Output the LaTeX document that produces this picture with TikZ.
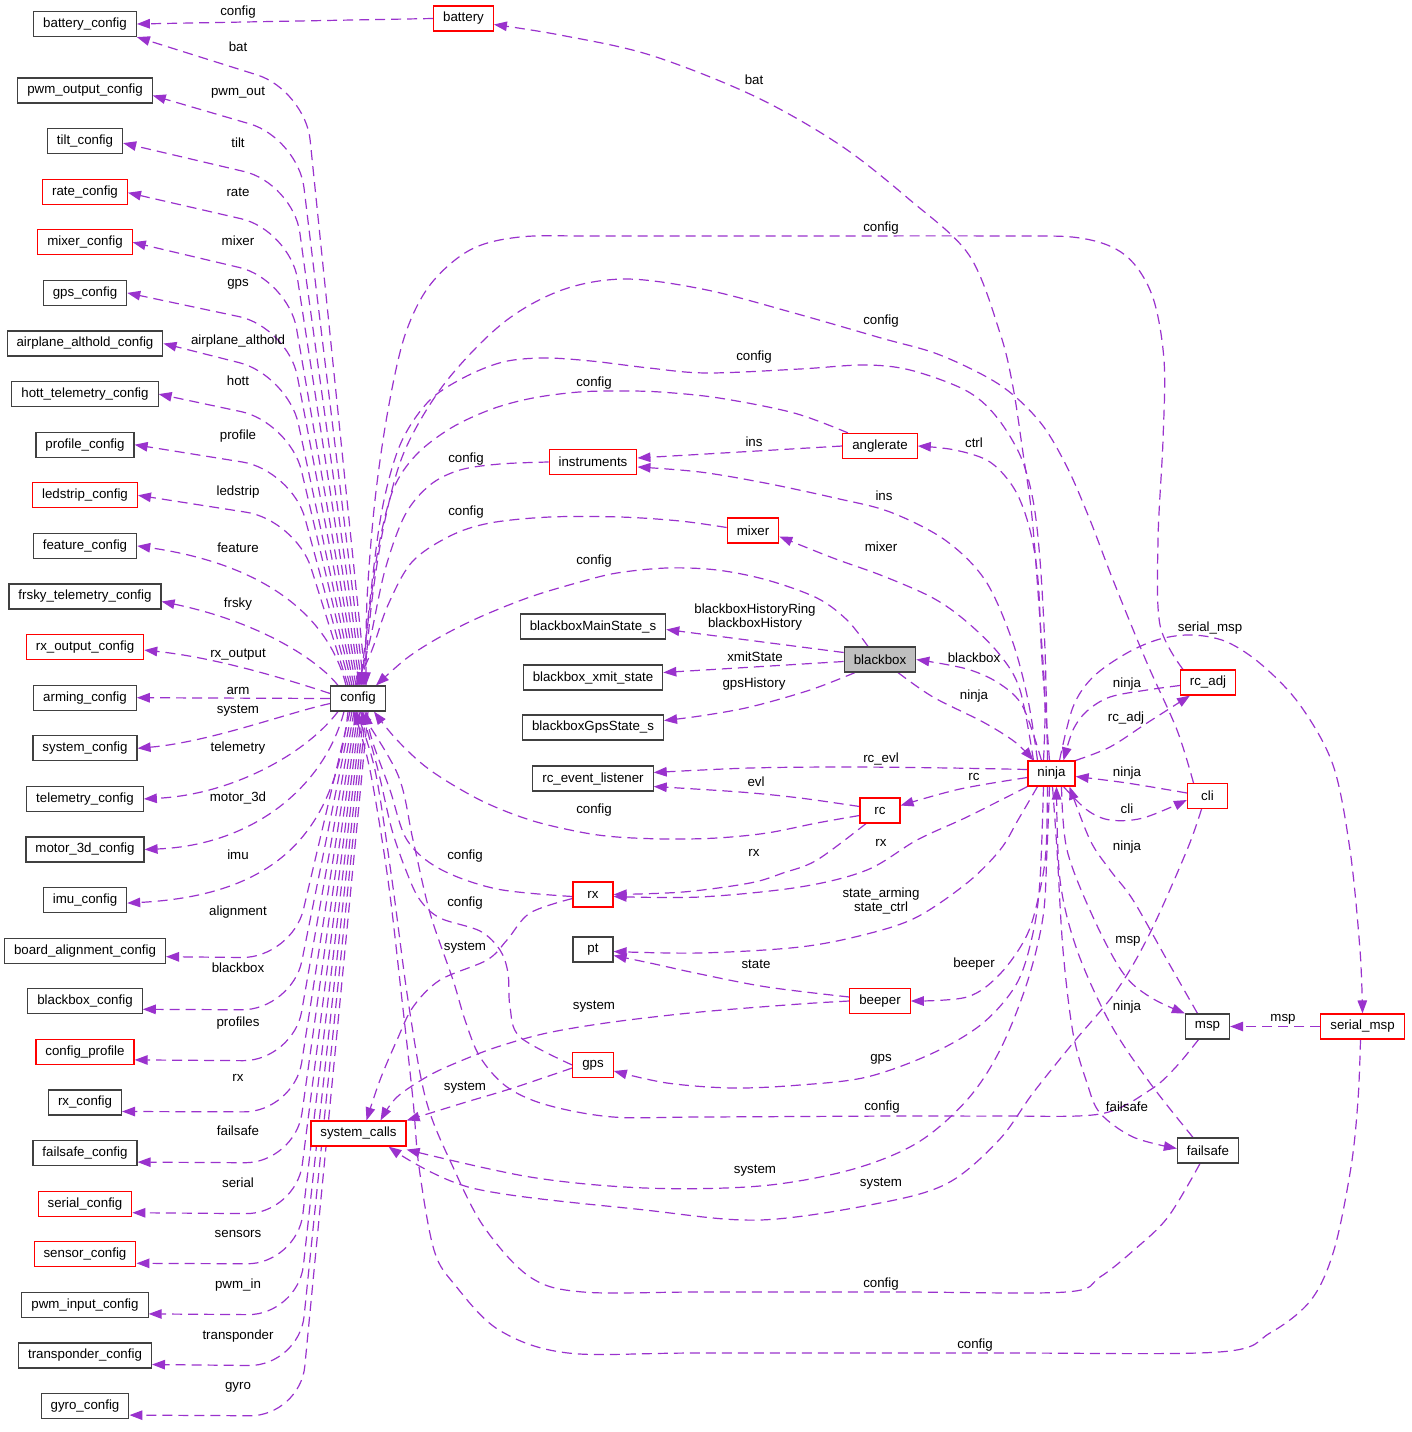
\documentclass[tikz,border=0pt]{standalone}
\usepackage{fontspec}
\setmainfont{Liberation Sans}
\usetikzlibrary{arrows.meta,backgrounds}
\definecolor{edgec}{HTML}{9A32CD}
\definecolor{boxc}{HTML}{404040}
\definecolor{hlfill}{HTML}{BFBFBF}
\newcommand\dfont{\fontsize{13.3pt}{14pt}\selectfont}
\tikzset{
  box/.style={draw=boxc, line width=1.15pt, fill=white, minimum height=25pt, minimum width=40pt, inner xsep=9.5pt, inner ysep=0pt, font=\dfont},
  rbox/.style={box, draw=red},
  e/.style={draw=edgec, line width=1.2pt, dash pattern=on 10pt off 6pt, -{Triangle[length=13pt,width=9.5pt]}},
  lb/.style={font=\dfont, inner sep=0pt, align=center},
  sm/.style={smooth, tension=0.55},
  rc50/.style={rounded corners=50pt},
}
\begin{document}
\begin{tikzpicture}[x=1pt,y=-1pt]
\path[use as bounding box] (0,0) rectangle (1411,1432);
% ---------- left column ----------
\node[box]  (battery_config) at (85,24) {battery\_config};
\node[box]  (pwm_output_config) at (85,90.5) {pwm\_output\_config};
\node[box]  (tilt_config) at (85,141.1) {tilt\_config};
\node[rbox] (rate_config) at (85,191.7) {rate\_config};
\node[rbox] (mixer_config) at (85,242.3) {mixer\_config};
\node[box]  (gps_config) at (85,292.9) {gps\_config};
\node[box]  (airplane_althold_config) at (85,343.5) {airplane\_althold\_config};
\node[box]  (hott_telemetry_config) at (85,394.1) {hott\_telemetry\_config};
\node[box]  (profile_config) at (85,444.7) {profile\_config};
\node[rbox] (ledstrip_config) at (85,495.3) {ledstrip\_config};
\node[box]  (feature_config) at (85,545.9) {feature\_config};
\node[box]  (frsky_telemetry_config) at (85,596.5) {frsky\_telemetry\_config};
\node[rbox] (rx_output_config) at (85,647.1) {rx\_output\_config};
\node[box]  (arming_config) at (85,697.7) {arming\_config};
\node[box]  (system_config) at (85,748.3) {system\_config};
\node[box]  (telemetry_config) at (85,798.9) {telemetry\_config};
\node[box]  (motor_3d_config) at (85,849.5) {motor\_3d\_config};
\node[box]  (imu_config) at (85,900.1) {imu\_config};
\node[box]  (board_alignment_config) at (85,950.7) {board\_alignment\_config};
\node[box]  (blackbox_config) at (85,1001.3) {blackbox\_config};
\node[rbox] (config_profile) at (85,1051.9) {config\_profile};
\node[box]  (rx_config) at (85,1102.5) {rx\_config};
\node[box]  (failsafe_config) at (85,1153.1) {failsafe\_config};
\node[rbox] (serial_config) at (85,1203.7) {serial\_config};
\node[rbox] (sensor_config) at (85,1254.3) {sensor\_config};
\node[box]  (pwm_input_config) at (85,1304.9) {pwm\_input\_config};
\node[box]  (transponder_config) at (85,1355.5) {transponder\_config};
\node[box]  (gyro_config) at (85,1406.1) {gyro\_config};
% ---------- centre ----------
\node[box]  (config) at (358,698.5) {config};
\node[rbox] (battery) at (463.5,18.5) {battery};
\node[rbox] (instruments) at (593,462) {instruments};
\node[rbox] (anglerate) at (880,446) {anglerate};
\node[rbox] (mixer) at (753,530.5) {mixer};
\node[box]  (blackboxMainState_s) at (593,626.5) {blackboxMainState\_s};
\node[box, fill=hlfill] (blackbox) at (880,659.5) {blackbox};
\node[box]  (blackbox_xmit_state) at (593,677.5) {blackbox\_xmit\_state};
\node[box]  (blackboxGpsState_s) at (593,727.5) {blackboxGpsState\_s};
\node[box]  (rc_event_listener) at (593,778.5) {rc\_event\_listener};
\node[rbox] (rc) at (880,810.5) {rc};
\node[rbox] (rx) at (593,894.5) {rx};
\node[box]  (pt) at (593,949.5) {pt};
\node[rbox] (beeper) at (880,1001) {beeper};
\node[rbox] (gps) at (593,1065) {gps};
\node[rbox] (system_calls) at (358.5,1133.5) {system\_calls};
\node[rbox] (ninja) at (1051.5,773.5) {ninja};
\node[rbox] (rc_adj) at (1208,682.5) {rc\_adj};
\node[rbox] (cli) at (1207.5,796) {cli};
\node[box]  (msp) at (1207.5,1026.5) {msp};
\node[rbox] (serial_msp) at (1362.5,1026.5) {serial\_msp};
\node[box]  (failsafe) at (1208,1150.5) {failsafe};

\begin{scope}[on background layer]
% ---------- config -> left column (upper) ----------
\draw[e,rc50] ([xshift=8pt]config.north) -- (305,90) -- (battery_config.south east);
\draw[e,rc50] ([xshift=6pt]config.north) -- (298,138) -- ([yshift=-5pt]pwm_output_config.east);
\draw[e,rc50] ([xshift=4pt]config.north) -- (293,183) -- ([yshift=-2pt]tilt_config.east);
\draw[e,rc50] ([xshift=2pt]config.north) -- (290,230) -- ([yshift=-1pt]rate_config.east);
\draw[e,rc50] ([xshift=0pt]config.north) -- (288,279) -- (mixer_config.east);
\draw[e,rc50] ([xshift=-2pt]config.north) -- (288,327) -- (gps_config.east);
\draw[e,rc50] ([xshift=-4pt]config.north) -- (288,375) -- (airplane_althold_config.east);
\draw[e,rc50] ([xshift=-6pt]config.north) -- (290,422) -- (hott_telemetry_config.east);
\draw[e,rc50] ([xshift=-8pt]config.north) -- (292,470) -- (profile_config.east);
\draw[e,rc50] ([xshift=-10pt]config.north) -- (296,520) -- (ledstrip_config.east);
\draw[e] ([xshift=-12pt]config.north) .. controls (330,620) and (270,565) .. (feature_config.east);
\draw[e] ([xshift=-20pt]config.north) .. controls (318,660) and (260,622) .. ([yshift=-5pt]frsky_telemetry_config.east);
\draw[e] ([yshift=5pt]config.west) .. controls (295,682) and (220,658) .. ([yshift=-3pt]rx_output_config.east);
\draw[e] (config.west) -- (arming_config.east);
\draw[e] ([yshift=-5pt]config.west) .. controls (290,712) and (210,742) .. (system_config.east);
\draw[e] ([xshift=-20pt]config.south) .. controls (305,755) and (230,795) .. (telemetry_config.east);
\draw[e] ([xshift=-14pt]config.south) .. controls (325,785) and (255,845) .. (motor_3d_config.east);
\draw[e] ([xshift=-10pt]config.south) .. controls (335,830) and (280,895) .. ([yshift=-3pt]imu_config.east);
% ---------- config -> left column (lower) ----------
\draw[e,rc50] ([xshift=-8pt]config.south) -- (292,958) -- ([yshift=-6pt]board_alignment_config.east);
\draw[e,rc50] ([xshift=-6pt]config.south) -- (292,1010) -- ([yshift=-8pt]blackbox_config.east);
\draw[e,rc50] ([xshift=-4pt]config.south) -- (293,1061) -- ([yshift=-8pt]config_profile.east);
\draw[e,rc50] ([xshift=-2pt]config.south) -- (294,1112) -- ([yshift=-9pt]rx_config.east);
\draw[e,rc50] ([xshift=0pt]config.south) -- (295,1163) -- ([yshift=-9pt]failsafe_config.east);
\draw[e,rc50] ([xshift=2pt]config.south) -- (296,1214) -- ([yshift=-9pt]serial_config.east);
\draw[e,rc50] ([xshift=4pt]config.south) -- (297,1264) -- ([yshift=-9pt]sensor_config.east);
\draw[e,rc50] ([xshift=6pt]config.south) -- (298,1315) -- ([yshift=-9pt]pwm_input_config.east);
\draw[e,rc50] ([xshift=8pt]config.south) -- (299,1366) -- ([yshift=-9pt]transponder_config.east);
\draw[e,rc50] ([xshift=10pt]config.south) -- (300,1416) -- ([yshift=-9pt]gyro_config.east);
% ---------- battery ----------
\draw[e] (battery.west) -- (battery_config.east);
\draw[e] plot[sm] coordinates {([xshift=-8pt]ninja.north) (1045,700) (1040,620) (1032,517) (1023,453) (1013,387) (1000,333) (969,255) (910,200) (840,145) (754,96) (650,55) (560,35) ([yshift=-6pt]battery.east)};
% ---------- edges into config (top) ----------
\draw[e] plot[sm] coordinates {([xshift=-25pt]rc_adj.north) (1160,625) (1158,540) (1163,440) (1164,360) (1152,295) (1125,255) (1080,238) (1000,236) (800,236) (600,236) (520,237) (470,250) (430,285) (405,335) (388,410) (375,500) (367,600) ([xshift=8pt]config.north)};
\draw[e] plot[sm] coordinates {([xshift=-14pt]cli.north) (1177,730) (1147,663) (1113,580) (1090,520) (1067,467) (1040,422) (1000,385) (940,355) (881,338) (794,313) (707,290) (626,279) (562,290) (503,323) (445,383) (405,450) (385,520) (372,600) ([xshift=6pt]config.north)};
\draw[e] plot[sm] coordinates {([xshift=-4pt]ninja.north) (1045,650) (1040,560) (1033,500) (1020,455) (995,415) (965,390) (910,370) (864,365) (800,369) (707,373) (649,368) (591,361) (544,358) (503,362) (463,378) (428,402) (400,445) (382,510) (370,600) ([xshift=4pt]config.north)};
\draw[e] plot[sm] coordinates {([xshift=-32pt]anglerate.north) (794,413) (719,398) (660,392) (620,391) (579,392) (533,398) (492,409) (451,428) (416,455) (393,490) (378,550) (367,630) ([xshift=2pt]config.north)};
\draw[e] plot[sm] coordinates {(instruments.west) (500,464) (460,470) (430,485) (405,515) (385,570) (370,640) (config.north)};
\draw[e] plot[sm] coordinates {([yshift=3pt]mixer.west) (680,521) (620,517) (550,517) (490,523) (450,536) (412,562) (388,605) (372,650) ([xshift=-2pt]config.north)};
\draw[e] plot[sm] coordinates {([xshift=-12pt]blackbox.north) (847,620) (817,598) (767,580) (717,570) (667,568) (617,573) (580,582) (530,597) (480,617) (440,637) (407,658) ([xshift=18pt]config.north)};
% ---------- edges into config (bottom) ----------
\draw[e] plot[sm] coordinates {([yshift=-5pt]rc.west) (817,823) (767,833) (717,838) (667,839) (617,837) (580,832) (530,820) (480,800) (430,770) (397,740) ([xshift=16pt]config.south)};
\draw[e] plot[sm] coordinates {([yshift=-2pt]rx.west) (497,889) (440,869) (407,840) (390,790) (372,740) ([xshift=8pt]config.south)};
\draw[e] plot[sm] coordinates {(gps.west) (520,1037) (510,1007) (508,973) (500,950) (480,931) (440,918) (420,900) (407,873) (392,830) (378,770) ([xshift=4pt]config.south)};
\draw[e] plot[sm] coordinates {([xshift=-9pt]msp.south) (1175,1068) (1150,1090) (1100,1114) (1000,1116) (900,1116) (700,1117) (613,1117) (547,1105) (507,1087) (480,1057) (465,1020) (453,980) (430,913) (413,840) (398,775) ([xshift=2pt]config.south)};
\draw[e] plot[sm] coordinates {([xshift=-8pt]failsafe.south) (1168,1217) (1134,1250) (1100,1277) (1066,1292) (900,1292) (700,1292) (583,1292) (530,1277) (484,1227) (453,1167) (426,1100) (408,1000) (392,880) (375,770) ([xshift=-2pt]config.south)};
\draw[e] plot[sm] coordinates {([xshift=-2pt]serial_msp.south) (1358,1100) (1351,1167) (1334,1250) (1311,1300) (1270,1333) (1219,1352) (1000,1353) (700,1353) (568,1353) (499,1330) (455,1285) (434,1250) (419,1167) (413,1100) (402,1000) (388,880) (370,770) ([xshift=-4pt]config.south)};
% ---------- middle ----------
\draw[e] (anglerate.west) -- ([yshift=4pt]instruments.east);
\draw[e] plot[sm] coordinates {([xshift=-14pt]ninja.north) (1028,700) (1012,640) (985,580) (945,540) (890,512) (835,498) (765,483) (700,472) ([yshift=-5pt]instruments.east)};
\draw[e] plot[sm] coordinates {([xshift=-2pt]ninja.north) (1042,660) (1038,580) (1030,530) (1015,490) (990,462) (955,450) (anglerate.east)};
\draw[e] plot[sm] coordinates {([xshift=-18pt]ninja.north) (1020,690) (1000,655) (967,622) (933,598) (883,576) (833,558) ([yshift=-6pt]mixer.east)};
\draw[e] ([yshift=7pt]blackbox.west) -- ([yshift=-3pt]blackboxMainState_s.east);
\draw[e] ([yshift=-2pt]blackbox.west) -- ([yshift=5pt]blackbox_xmit_state.east);
\draw[e] plot[sm] coordinates {([xshift=-25pt]blackbox.south) (810,690) (750,707) (700,716) ([yshift=7pt]blackboxGpsState_s.east)};
\draw[e] plot[sm] coordinates {([xshift=-10pt]ninja.north) (1023,707) (1000,684) (967,669) (blackbox.east)};
\draw[e] plot[sm] coordinates {([xshift=18pt]blackbox.south) (933,697) (983,722) (1015,742) ([xshift=6pt]ninja.north west)};
\draw[e] plot[sm] coordinates {([yshift=4pt]ninja.west) (950,768) (850,767) (750,768) ([yshift=6pt]rc_event_listener.east)};
\draw[e] plot[sm] coordinates {([yshift=4pt]rc.west) (800,798) (740,792) ([yshift=-8pt]rc_event_listener.east)};
\draw[e] plot[sm] coordinates {([yshift=-4pt]ninja.west) (960,789) ([yshift=5pt]rc.east)};
\draw[e] plot[sm] coordinates {([xshift=-14pt]rc.south) (817,860) (783,873) (750,883) (683,892) (rx.east)};
\draw[e] plot[sm] coordinates {(ninja.south west) (967,817) (917,840) (867,870) (800,887) (700,897) ([yshift=-2pt]rx.east)};
\draw[e] plot[sm] coordinates {([xshift=-14pt]ninja.south) (1018,820) (1000,850) (967,883) (917,917) (867,934) (800,947) (700,953) ([yshift=-2pt]pt.east)};
\draw[e] plot[sm] coordinates {([yshift=4pt]beeper.west) (767,987) (700,974) (650,963) ([yshift=-6pt]pt.east)};
\draw[e] plot[sm] coordinates {([xshift=-4pt]ninja.south) (1046,850) (1040,890) (1027,935) (1000,974) (967,997) (beeper.east)};
\draw[e] plot[sm] coordinates {([xshift=-8pt]ninja.south) (1040,880) (1033,933) (1017,983) (983,1023) (933,1053) (867,1077) (800,1085) (733,1088) (667,1083) ([yshift=-6pt]gps.east)};
% ---------- system_calls ----------
\draw[e] plot[sm] coordinates {([yshift=-4pt]rx.west) (530,913) (507,940) (487,960) (440,980) (413,1007) (397,1040) (380,1080) ([xshift=8pt]system_calls.north)};
\draw[e] plot[sm] coordinates {(beeper.west) (800,1004) (700,1012) (613,1022) (547,1033) (497,1047) (463,1060) (430,1075) (397,1097) ([xshift=22pt]system_calls.north)};
\draw[e] plot[sm] coordinates {([yshift=-3pt]gps.west) (513,1088) (463,1103) (system_calls.north east)};
\draw[e] plot[sm] coordinates {([xshift=-2pt]ninja.south) (1047,850) (1043,917) (1027,983) (1000,1050) (967,1100) (917,1143) (850,1170) (760,1186) (645,1188) (530,1177) ([yshift=-3pt]system_calls.south east)};
\draw[e] plot[sm] coordinates {([xshift=-6pt]cli.south) (1187,850) (1150,933) (1117,990) (1073,1043) (1033,1093) (999,1140) (948,1183) (880,1203) (760,1220) (645,1210) (472,1188) ([xshift=30pt]system_calls.south)};
% ---------- right cluster ----------
\draw[e] plot[sm] coordinates {([xshift=10pt]ninja.south) (1067,850) (1093,917) (1123,973) (1150,997) (msp.north west)};
\draw[e] plot[sm] coordinates {([xshift=-10pt]msp.north) (1167,960) (1133,900) (1110,870) (1090,840) ([xshift=18pt]ninja.south)};
\draw[e] plot[sm] coordinates {([xshift=-15pt]failsafe.north) (1150,1083) (1110,1023) (1077,950) (1060,880) ([xshift=5pt]ninja.south)};
\draw[e] plot[sm] coordinates {([xshift=1pt]ninja.south) (1057,850) (1063,950) (1073,1033) (1087,1083) (1100,1113) (1133,1137) ([yshift=2pt]failsafe.west)};
\draw[e] (serial_msp.west) -- (msp.east);
\draw[e] plot[sm] coordinates {([xshift=8pt]ninja.north) (1073,707) (1093,677) (1127,653) (1160,639) (1193,635) (1227,642) (1262,665) (1300,705) (1333,765) (1350,850) (1360,950) (serial_msp.north)};
\draw[e] plot[sm] coordinates {([yshift=-3pt]rc_adj.west) (1147,690) (1110,697) (1087,711) (1073,730) ([xshift=12pt]ninja.north)};
\draw[e] plot[sm] coordinates {(ninja.north east) (1110,747) (1147,723) ([xshift=-18pt]rc_adj.south)};
\draw[e] plot[sm] coordinates {([yshift=3pt]cli.west) (1127,783) ([yshift=-3pt]ninja.east)};
\draw[e] plot[sm] coordinates {([xshift=12pt]ninja.south) (1087,810) (1110,820) (1143,818) ([yshift=-4pt]cli.west)};
\end{scope}

% ---------- labels: left column ----------
\node[lb] (l_bat) at (238,47) {bat};
\node[lb] (l_pwmout) at (238,93) {pwm\_out};
\node[lb] (l_tilt) at (238,143) {tilt};
\node[lb] (l_rate) at (238,192) {rate};
\node[lb] (l_mixer) at (238,241) {mixer};
\node[lb] (l_gps) at (238,284) {gps};
\node[lb] (l_alt) at (238,341) {airplane\_althold};
\node[lb] (l_hott) at (238,381) {hott};
\node[lb] (l_profile) at (238,436) {profile};
\node[lb] (l_ledstrip) at (238,492) {ledstrip};
\node[lb] (l_feature) at (238,548) {feature};
\node[lb] (l_frsky) at (238,604) {frsky};
\node[lb] (l_rxout) at (238,655) {rx\_output};
\node[lb] (l_arm) at (238,691) {arm};
\node[lb] (l_system) at (238,711) {system};
\node[lb] (l_telemetry) at (238,748) {telemetry};
\node[lb] (l_motor) at (238,798) {motor\_3d};
\node[lb] (l_imu) at (238,855) {imu};
\node[lb] (l_align) at (238,912) {alignment};
\node[lb] (l_bb) at (238,968) {blackbox};
\node[lb] (l_profiles) at (238,1023) {profiles};
\node[lb] (l_rx) at (238,1078) {rx};
\node[lb] (l_failsafe) at (238,1131) {failsafe};
\node[lb] (l_serial) at (238,1183) {serial};
\node[lb] (l_sensors) at (238,1234) {sensors};
\node[lb] (l_pwmin) at (238,1285) {pwm\_in};
\node[lb] (l_transp) at (238,1336) {transponder};
\node[lb] (l_gyro) at (238,1387) {gyro};
% ---------- labels: centre and right ----------
\node[lb] (m_batcfg) at (238,12) {config};
\node[lb] (m_bat) at (754,80) {bat};
\node[lb] (m_cfg1) at (881,228) {config};
\node[lb] (m_cfg2) at (881,321) {config};
\node[lb] (m_cfg3) at (754,357) {config};
\node[lb] (m_cfg4) at (594,383) {config};
\node[lb] (m_ins1) at (754,442) {ins};
\node[lb] (m_ctrl) at (974,443) {ctrl};
\node[lb] (m_cfg5) at (466,459) {config};
\node[lb] (m_ins2) at (884,496) {ins};
\node[lb] (m_cfg6) at (466,512) {config};
\node[lb] (m_mixer) at (881,547) {mixer};
\node[lb] (m_cfg7) at (594,561) {config};
\node[lb] (m_hist) at (755,617) {blackboxHistoryRing\\blackboxHistory};
\node[lb] (m_xmit) at (755,657) {xmitState};
\node[lb] (m_bb) at (974,658) {blackbox};
\node[lb] (m_gpsh) at (754,684) {gpsHistory};
\node[lb] (m_ninja0) at (974,696) {ninja};
\node[lb] (m_rcevl) at (881,759) {rc\_evl};
\node[lb] (m_evl) at (756,782) {evl};
\node[lb] (m_rc) at (974,777) {rc};
\node[lb] (m_cfg8) at (594,810) {config};
\node[lb] (m_rx1) at (754,853) {rx};
\node[lb] (m_rx2) at (881,843) {rx};
\node[lb] (m_cfg9) at (465,856) {config};
\node[lb] (m_state2) at (881,901) {state\_arming\\state\_ctrl};
\node[lb] (m_cfg10) at (465,903) {config};
\node[lb] (m_sys1) at (465,948) {system};
\node[lb] (m_state) at (756,964) {state};
\node[lb] (m_beeper) at (974,964) {beeper};
\node[lb] (m_sys2) at (594,1007) {system};
\node[lb] (m_gps) at (881,1059) {gps};
\node[lb] (m_sys3) at (465,1088) {system};
\node[lb] (m_cfg11) at (882,1107) {config};
\node[lb] (m_sys4) at (755,1171) {system};
\node[lb] (m_sys5) at (881,1184) {system};
\node[lb] (m_cfg12) at (881,1284) {config};
\node[lb] (m_cfg13) at (975,1345) {config};
\node[lb] (m_smsp) at (1210,628) {serial\_msp};
\node[lb] (m_ninja1) at (1127,684) {ninja};
\node[lb] (m_rcadj) at (1126,718) {rc\_adj};
\node[lb] (m_ninja2) at (1127,773) {ninja};
\node[lb] (m_cli) at (1127,809) {cli};
\node[lb] (m_ninja3) at (1127,847) {ninja};
\node[lb] (m_msp1) at (1128,941) {msp};
\node[lb] (m_ninja4) at (1127,1007) {ninja};
\node[lb] (m_fs) at (1127,1107) {failsafe};
\node[lb] (m_msp2) at (1283,1019) {msp};
\end{tikzpicture}
\end{document}
